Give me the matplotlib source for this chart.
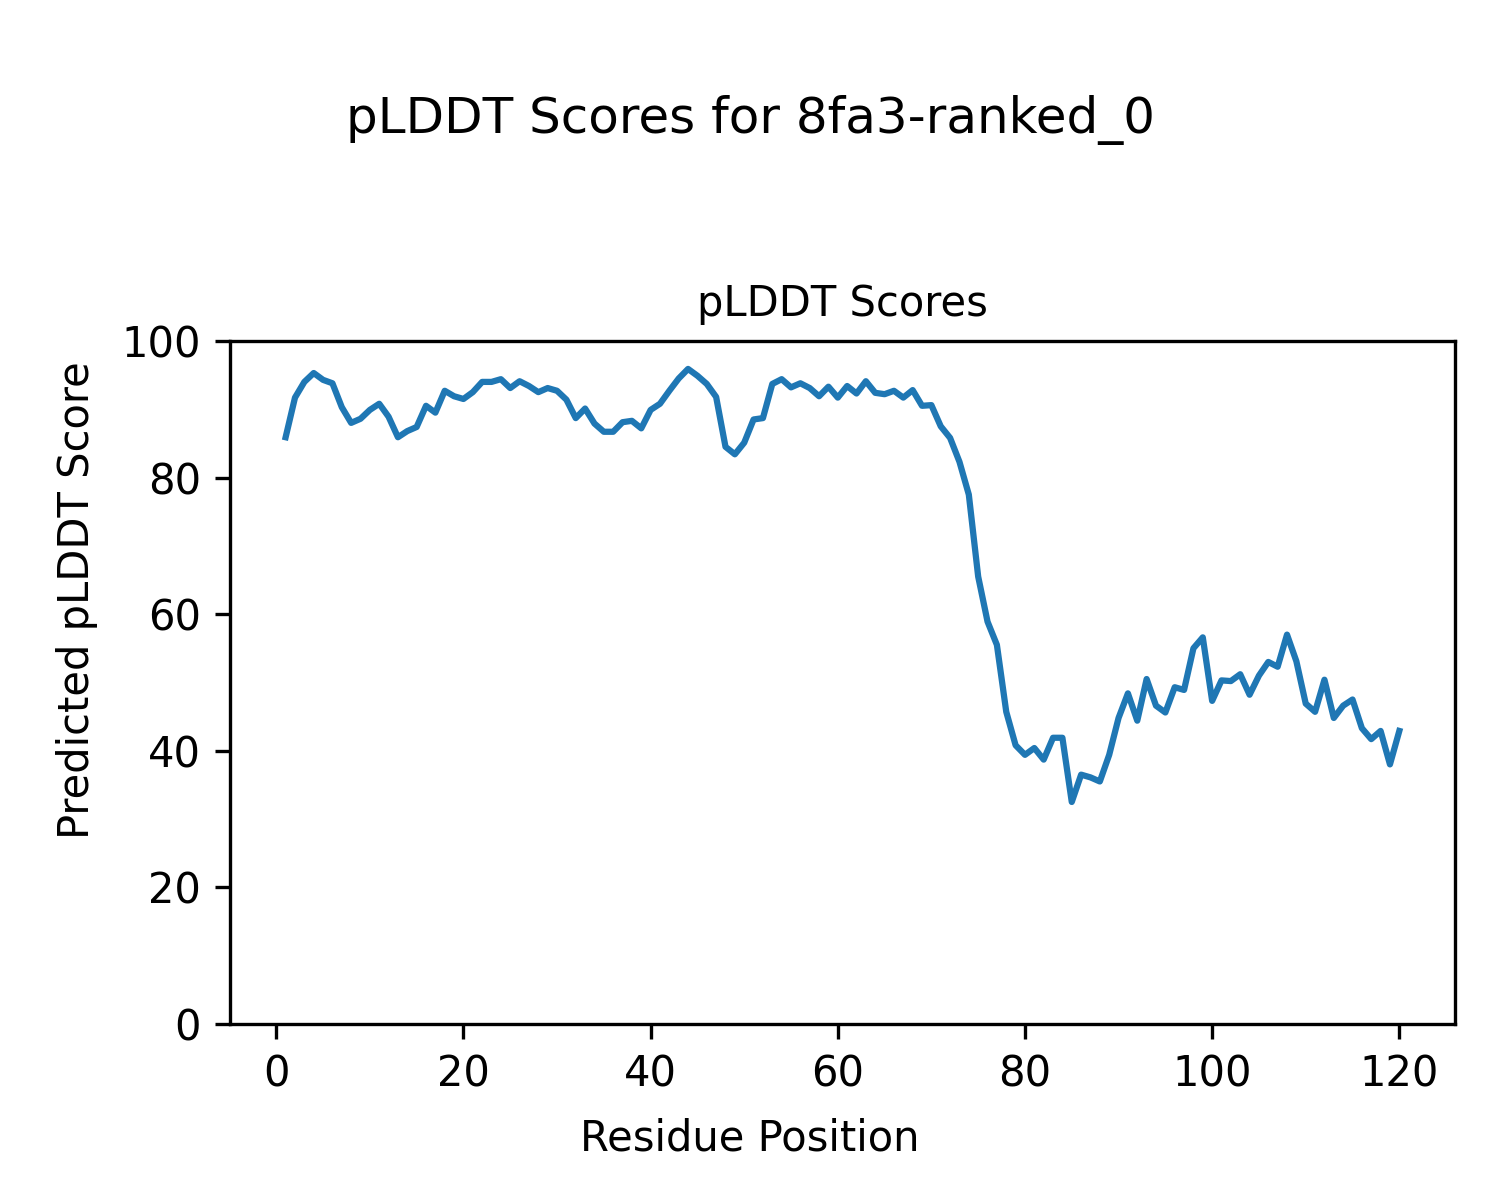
import numpy as np
import matplotlib.pyplot as plt

residues = np.arange(1, 121)
plddt = [
    85.9, 91.7, 94.0, 95.3, 94.3, 93.8, 90.3, 88.0, 88.6, 89.9,
    90.8, 88.9, 85.9, 86.8, 87.4, 90.5, 89.5, 92.7, 91.9, 91.5,
    92.5, 94.0, 94.0, 94.4, 93.1, 94.1, 93.4, 92.5, 93.1, 92.7,
    91.4, 88.7, 90.1, 87.9, 86.7, 86.7, 88.1, 88.3, 87.2, 89.9,
    90.8, 92.7, 94.5, 95.9, 94.9, 93.7, 91.8, 84.5, 83.4, 85.1,
    88.5, 88.7, 93.7, 94.4, 93.2, 93.8, 93.1, 91.9, 93.3, 91.7,
    93.4, 92.3, 94.1, 92.4, 92.2, 92.7, 91.7, 92.8, 90.5, 90.6,
    87.5, 85.8, 82.3, 77.5, 65.5, 58.9, 55.5, 45.7, 40.8, 39.4,
    40.4, 38.7, 41.9, 41.9, 32.5, 36.5, 36.1, 35.5, 39.4, 44.8,
    48.4, 44.4, 50.5, 46.6, 45.6, 49.3, 48.9, 55.0, 56.6, 47.3,
    50.3, 50.2, 51.2, 48.2, 51.0, 53.0, 52.3, 57.0, 53.1, 46.9,
    45.7, 50.4, 44.8, 46.6, 47.5, 43.3, 41.7, 42.9, 38.0, 42.9,
]

fig = plt.figure(figsize=(5, 4), dpi=300)
ax = fig.add_axes([0.1533, 0.1467, 0.8167, 0.5692])
ax.plot(residues, plddt)
ax.set_ylim(0, 100)
ax.set_title("pLDDT Scores", fontsize=10)
fig.supxlabel("Residue Position", fontsize=10, y=0.051, va='center')
fig.supylabel("Predicted pLDDT Score", fontsize=10, x=0.0513, ha='center')
fig.suptitle("pLDDT Scores for 8fa3-ranked_0", y=0.9, va='center')

fig.savefig("out.png")
